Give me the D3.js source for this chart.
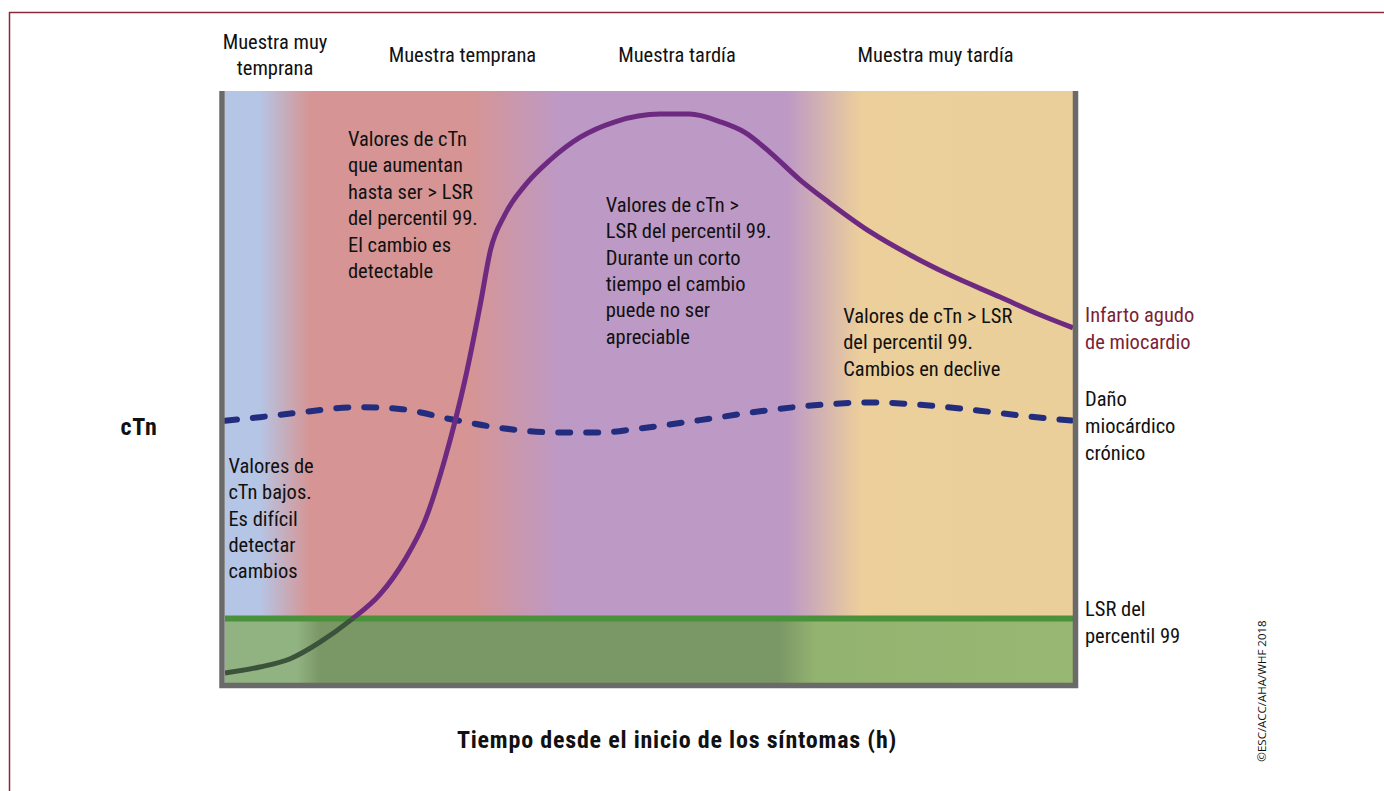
<!DOCTYPE html>
<html>
<head>
<meta charset="utf-8">
<script src="https://d3js.org/d3.v7.min.js"></script>
<style>
  body { margin: 0; background: #fff; }
  text { font-family: "Liberation Sans Narrow", "Roboto Condensed", "DejaVu Sans Condensed", sans-serif; fill: #111; }
</style>
</head>
<body>
<div id="chart"></div>
<script>
// datos (escala relativa 0-100 en ambos ejes)
const amiX = [0, 4.1, 7.7, 11.2, 14.7, 18.3, 21.2, 23.6, 25.9, 28.3, 30.1, 31.3, 33.0, 35.4, 38.3, 41.9, 46.0, 51.3, 54.8, 58.4, 61.3, 64.3, 67.8, 71.3, 76.1, 80.8, 85.5, 91.4, 96.1, 100];
const amiY = [1.7, 2.7, 4.1, 6.9, 10.5, 15.0, 20.8, 27.5, 37.7, 51.2, 63.9, 73.1, 79.1, 84.1, 88.3, 92.2, 94.8, 96.1, 96.1, 94.8, 93.0, 89.6, 85.0, 81.1, 76.2, 72.3, 68.9, 65.2, 62.2, 60.0];
const chronicX = [0, 4.1, 8.8, 15.9, 20.6, 26.5, 32.4, 39.5, 44.2, 48.9, 56.0, 63.1, 70.2, 76.1, 82.0, 89.0, 94.9, 100];
const chronicY = [44.3, 44.9, 45.7, 46.6, 46.3, 44.6, 43.1, 42.3, 42.3, 43.0, 44.4, 45.9, 47.0, 47.4, 47.0, 46.0, 45.0, 44.3];
const lsrLevel = 10.9;

const phaseLabels = [["Muestra muy", "temprana"], ["Muestra temprana"], ["Muestra tardía"], ["Muestra muy tardía"]];
const phaseCenters = [5.9, 28.0, 53.3, 83.8];

const notes = [
  {x: 14.5, y: 90.7, lines: ["Valores de cTn", "que aumentan", "hasta ser > LSR", "del percentil 99.", "El cambio es", "detectable"]},
  {x: 44.9, y: 79.6, lines: ["Valores de cTn >", "LSR del percentil 99.", "Durante un corto", "tiempo el cambio", "puede no ser", "apreciable"]},
  {x: 72.9, y: 60.8, lines: ["Valores de cTn > LSR", "del percentil 99.", "Cambios en declive"]},
  {x: 0.4, y: 35.5, lines: ["Valores de", "cTn bajos.", "Es difícil", "detectar", "cambios"]}
];

const sideLabels = [
  {y: 61.0, lines: ["Infarto agudo", "de miocardio"], color: "#7d1f33"},
  {y: 46.8, lines: ["Daño", "miocárdico", "crónico"], color: "#111"},
  {y: 11.3, lines: ["LSR del", "percentil 99"], color: "#111"}
];

const W = 1384, H = 791;
const plot = {left: 225, right: 1073, top: 91, bottom: 683};

const svg = d3.select("#chart").append("svg")
  .attr("width", W).attr("height", H);

const x = d3.scaleLinear().domain([0, 100]).range([plot.left, plot.right]);
const y = d3.scaleLinear().domain([0, 100]).range([plot.bottom, plot.top]);

// marco exterior
svg.append("path")
  .attr("d", `M9.5,${H} V12.5 H${W}`)
  .attr("fill", "none").attr("stroke", "#8a2b3b").attr("stroke-width", 1.5);

const defs = svg.append("defs");

function gradient(id, stops) {
  const g = defs.append("linearGradient").attr("id", id)
    .attr("gradientUnits", "userSpaceOnUse")
    .attr("x1", x(0)).attr("x2", x(100)).attr("y1", 0).attr("y2", 0);
  stops.forEach(s => g.append("stop").attr("offset", s[0]).attr("stop-color", s[1]));
}

gradient("bgTop", [
  [0, "#b5c5e5"], [0.041, "#b5c5e5"], [0.10, "#d69594"], [0.29, "#d69594"],
  [0.395, "#bd99c5"], [0.663, "#bd99c5"], [0.75, "#eccf9b"], [1, "#ebcf9b"]
]);
gradient("bgLow", [
  [0, "#91b381"], [0.085, "#91b381"], [0.112, "#7a9766"], [0.654, "#7a9766"],
  [0.696, "#93b370"], [1, "#97b772"]
]);

svg.append("rect")
  .attr("x", x(0)).attr("y", y(100))
  .attr("width", x(100) - x(0)).attr("height", y(lsrLevel) - y(100))
  .attr("fill", "url(#bgTop)");
svg.append("rect")
  .attr("x", x(0)).attr("y", y(lsrLevel))
  .attr("width", x(100) - x(0)).attr("height", y(0) - y(lsrLevel))
  .attr("fill", "url(#bgLow)");

// línea LSR percentil 99
svg.append("line")
  .attr("x1", x(0)).attr("x2", x(100))
  .attr("y1", y(lsrLevel)).attr("y2", y(lsrLevel))
  .attr("stroke", "#4a913c").attr("stroke-width", 6);

// recortes arriba / abajo del LSR
defs.append("clipPath").attr("id", "above").append("rect")
  .attr("x", x(0)).attr("y", 0).attr("width", x(100) - x(0)).attr("height", y(lsrLevel));
defs.append("clipPath").attr("id", "below").append("rect")
  .attr("x", x(0)).attr("y", y(lsrLevel)).attr("width", x(100) - x(0)).attr("height", y(0) - y(lsrLevel));

const chronicData = chronicX.map((v, i) => ({x: v, y: chronicY[i]}));
const amiData = amiX.map((v, i) => ({x: v, y: amiY[i]}));

const line = d3.line()
  .x(d => x(d.x))
  .y(d => y(d.y))
  .curve(d3.curveMonotoneX);

// curva de daño miocárdico crónico
svg.append("path")
  .datum(chronicData)
  .attr("fill", "none")
  .attr("stroke", "#222d7f")
  .attr("stroke-width", 6)
  .attr("stroke-linecap", "round")
  .attr("stroke-dasharray", "12 16")
  .attr("d", line);

// curva de infarto agudo
svg.append("path")
  .datum(amiData)
  .attr("clip-path", "url(#above)")
  .attr("fill", "none").attr("stroke", "#6d2a80").attr("stroke-width", 5)
  .attr("d", line);
svg.append("path")
  .datum(amiData)
  .attr("clip-path", "url(#below)")
  .attr("fill", "none").attr("stroke", "#3b533a").attr("stroke-width", 5)
  .attr("d", line);

// bordes grises
svg.append("path")
  .attr("d", `M${x(0) - 3},${y(100)} V${y(0) + 2.5} H${x(100) + 2.5} V${y(100)}`)
  .attr("fill", "none").attr("stroke", "#6a6a6a").attr("stroke-width", 5.5);

const fs = "20.5px";

// etiquetas de fase
phaseLabels.forEach((lines, i) => {
  const t = svg.append("text")
    .attr("x", x(phaseCenters[i]))
    .attr("y", lines.length > 1 ? 49 : 62)
    .attr("text-anchor", "middle")
    .style("font-size", fs);
  lines.forEach((s, j) => t.append("tspan").attr("x", x(phaseCenters[i])).attr("dy", j ? 26 : 0).text(s));
});

// notas dentro del gráfico
notes.forEach(n => {
  const t = svg.append("text")
    .attr("x", x(n.x)).attr("y", y(n.y))
    .style("font-size", fs);
  n.lines.forEach((s, j) => t.append("tspan").attr("x", x(n.x)).attr("dy", j ? 26.4 : 0).text(s));
});

// etiquetas a la derecha
sideLabels.forEach(l => {
  const t = svg.append("text")
    .attr("x", 1085).attr("y", y(l.y))
    .style("font-size", fs)
    .style("fill", l.color);
  l.lines.forEach((s, j) => t.append("tspan").attr("x", 1085).attr("dy", j ? 27 : 0).text(s));
});

// títulos de ejes
svg.append("text")
  .attr("x", 139).attr("y", 435)
  .attr("text-anchor", "middle")
  .style("font-size", "24px").style("font-weight", "bold")
  .style("letter-spacing", "0.8px")
  .text("cTn");

svg.append("text")
  .attr("x", 677).attr("y", 748)
  .attr("text-anchor", "middle")
  .style("font-size", "24px").style("font-weight", "bold")
  .style("letter-spacing", "0.8px")
  .text("Tiempo desde el inicio de los síntomas (h)");

svg.append("text")
  .attr("transform", "translate(1266,691) rotate(-90)")
  .attr("text-anchor", "middle")
  .style("font-size", "11.5px")
  .style("font-family", "'Open Sans', sans-serif")
  .text("©ESC/ACC/AHA/WHF 2018");
</script>
</body>
</html>
